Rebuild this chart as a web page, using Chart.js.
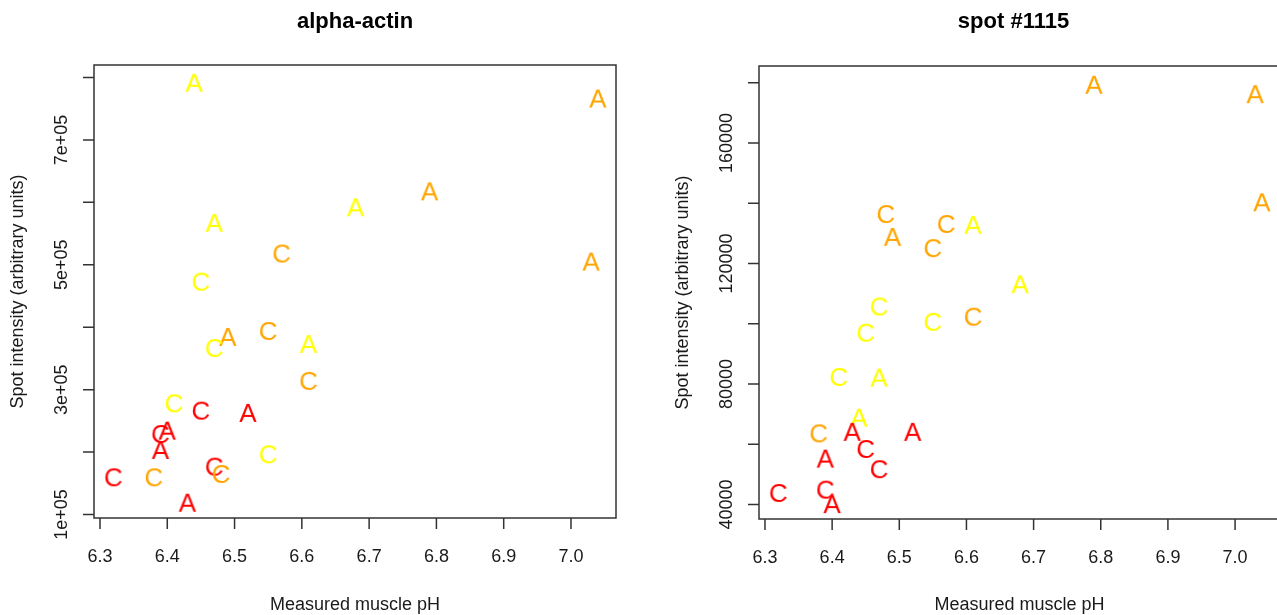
<!DOCTYPE html>
<html>
<head>
<meta charset="utf-8">
<script src="https://cdn.jsdelivr.net/npm/chart.js@4"></script>
<style>
  html, body { margin: 0; padding: 0; background: #fff; }
  body { width: 1277px; height: 615px; overflow: hidden; position: relative; }
  .panel { position: absolute; top: 0; width: 640px; height: 615px; }
</style>
</head>
<body>
<div class="panel" style="left:0"><canvas id="alphaChart" width="640" height="615"></canvas></div>
<div class="panel" style="left:665px"><canvas id="spotChart" width="640" height="615"></canvas></div>
<script>
// measured muscle pH for each sample (same samples in both panels)
const ph = [6.44, 7.04, 7.03, 6.79, 6.68, 6.47, 6.57, 6.45, 6.55, 6.49, 6.47, 6.61, 6.61,
            6.41, 6.45, 6.52, 6.40, 6.39, 6.39, 6.55, 6.47, 6.48, 6.32, 6.38, 6.43];
// letter drawn for each sample
const groups = ['A', 'A', 'A', 'A', 'A', 'A', 'C', 'C', 'C', 'A', 'C', 'A', 'C',
                'C', 'C', 'A', 'A', 'C', 'A', 'C', 'C', 'C', 'C', 'C', 'A'];
// colour class for each sample: r = red, o = orange, y = yellow
const shades = ['y', 'o', 'o', 'o', 'y', 'y', 'o', 'y', 'o', 'o', 'y', 'y', 'o',
                'y', 'r', 'r', 'r', 'r', 'r', 'y', 'r', 'o', 'r', 'o', 'r'];

const alphaActin = [791500, 766300, 505100, 617600, 592000, 567100, 518000, 473000, 394000,
                    384500, 366800, 373200, 314000, 278200, 266300, 262700, 234300, 229000,
                    203400, 196500, 176600, 164900, 159600, 159600, 118900];
const spot1115 = [68800, 140300, 176200, 179300, 113100, 82100, 133100, 97000, 125100,
                  128800, 105700, 132800, 102300, 82300, 58400, 64100, 40100, 44900,
                  55200, 100600, 51700, 136400, 43800, 63600, 64100];

const xTicks = [6.3, 6.4, 6.5, 6.6, 6.7, 6.8, 6.9, 7.0];
const xTickLabels = ['6.3', '6.4', '6.5', '6.6', '6.7', '6.8', '6.9', '7.0'];

const alphaYTicks = [100000, 200000, 300000, 400000, 500000, 600000, 700000, 800000];
const alphaYLabelValues = [100000, 300000, 500000, 700000];
const alphaYLabels = ['1e+05', '3e+05', '5e+05', '7e+05'];

const spotYTicks = [40000, 60000, 80000, 100000, 120000, 140000, 160000, 180000];
const spotYLabelValues = [40000, 80000, 120000, 160000];
const spotYLabels = ['40000', '80000', '120000', '160000'];

const FONT = '"Liberation Sans", Arial, Helvetica, sans-serif';
const palette = { r: '#FF0000', o: '#FFA500', y: '#FFFF00' };

// small canvases with a letter, used as point styles
const glyphCache = {};
function glyph(letter, shade) {
    const key = letter + shade;
    if (glyphCache[key]) return glyphCache[key];
    const c = document.createElement('canvas');
    c.width = 32; c.height = 32;
    const g = c.getContext('2d');
    g.font = '26px ' + FONT;
    g.fillStyle = palette[shade];
    g.textAlign = 'center';
    g.textBaseline = 'alphabetic';
    g.fillText(letter, 16, 16 + 9.3);
    glyphCache[key] = c;
    return c;
}

const pointGlyphs = ph.map((_, i) => glyph(groups[i], shades[i]));

// R style box, ticks and labels
const rAxes = {
    id: 'rAxes',
    afterDraw(chart, args, opts) {
        const { ctx, chartArea: a, scales } = chart;
        const x = scales.x, y = scales.y;
        ctx.save();
        ctx.strokeStyle = '#333';
        ctx.lineWidth = 1.5;
        ctx.strokeRect(a.left, a.top, a.right - a.left, a.bottom - a.top);

        ctx.beginPath();
        xTicks.forEach(v => {
            const px = x.getPixelForValue(v);
            ctx.moveTo(px, a.bottom);
            ctx.lineTo(px, a.bottom + 11);
        });
        opts.yTicks.forEach(v => {
            const py = y.getPixelForValue(v);
            ctx.moveTo(a.left, py);
            ctx.lineTo(a.left - 11, py);
        });
        ctx.stroke();

        ctx.fillStyle = '#1a1a1a';
        ctx.font = '18px ' + FONT;
        ctx.textAlign = 'center';
        ctx.textBaseline = 'alphabetic';
        xTicks.forEach((v, i) => {
            ctx.fillText(xTickLabels[i], x.getPixelForValue(v), a.bottom + 44);
        });
        ctx.textBaseline = 'middle';
        opts.yLabelValues.forEach((v, i) => {
            ctx.save();
            ctx.translate(a.left - 31.5, y.getPixelForValue(v));
            ctx.rotate(-Math.PI / 2);
            ctx.fillText(opts.yLabels[i], 0, 0);
            ctx.restore();
        });

        const cx = (a.left + a.right) / 2 + (opts.titleShift || 0);
        ctx.textBaseline = 'alphabetic';
        ctx.fillText('Measured muscle pH', (a.left + a.right) / 2, 610);
        ctx.save();
        ctx.translate(18, (a.top + a.bottom) / 2);
        ctx.rotate(-Math.PI / 2);
        ctx.textBaseline = 'middle';
        ctx.fillText('Spot intensity (arbitrary units)', 0, 0);
        ctx.restore();

        ctx.fillStyle = '#000';
        ctx.font = 'bold 22px ' + FONT;
        ctx.fillText(opts.title, cx, 28);
        ctx.restore();
    }
};

function makeChart(id, values, yMin, yMax, pad, axisOpts) {
    const ctx = document.getElementById(id).getContext('2d');
    return new Chart(ctx, {
        type: 'scatter',
        data: {
            datasets: [{
                data: ph.map((v, i) => ({ x: v, y: values[i] })),
                pointStyle: pointGlyphs,
                pointRadius: 10,
                clip: false
            }]
        },
        options: {
            responsive: false,
            animation: false,
            events: [],
            layout: { padding: pad },
            scales: {
                x: { type: 'linear', min: 6.2911, max: 7.0669, display: false },
                y: { type: 'linear', min: yMin, max: yMax, display: false }
            },
            plugins: {
                legend: { display: false },
                tooltip: { enabled: false },
                rAxes: axisOpts
            }
        },
        plugins: [rAxes]
    });
}

window.onload = function () {
    makeChart('alphaChart', alphaActin, 94400, 820000,
        { left: 94, top: 65, right: 24, bottom: 97 },
        { title: 'alpha-actin', yTicks: alphaYTicks, yLabelValues: alphaYLabelValues, yLabels: alphaYLabels });
    makeChart('spotChart', spot1115, 35157, 185540,
        { left: 94, top: 66, right: 25, bottom: 96 },
        { title: 'spot #1115', yTicks: spotYTicks, yLabelValues: spotYLabelValues, yLabels: spotYLabels, titleShift: -6 });
};
</script>
</body>
</html>
